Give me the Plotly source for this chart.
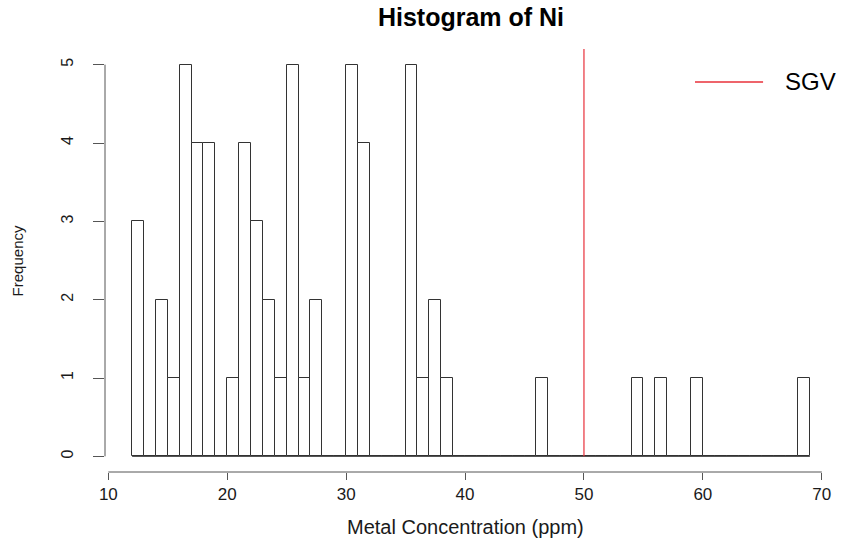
import plotly.graph_objects as go

# Histogram of Ni concentrations: unit-width bins from 12 to 69 ppm
breaks = list(range(12, 70))
counts = [3, 0, 2, 1, 5, 4, 4, 0, 1, 4,
          3, 2, 1, 5, 1, 2, 0, 0, 5, 4,
          0, 0, 0, 5, 1, 2, 1,
          0, 0, 0, 0, 0, 0, 0,
          1,
          0, 0, 0, 0, 0, 0, 0,
          1, 0, 1, 0, 0, 1,
          0, 0, 0, 0, 0, 0, 0, 0,
          1]
sgv = 50
x_ticks = [10, 20, 30, 40, 50, 60, 70]
y_ticks = [0, 1, 2, 3, 4, 5]

centers = [(a + b) / 2 for a, b in zip(breaks[:-1], breaks[1:])]
widths = [b - a for a, b in zip(breaks[:-1], breaks[1:])]

INK = "#333333"
TXT = "#1a1a1a"
FONT = "Liberation Sans, Arial, sans-serif"

x_lo = breaks[0] - 0.04 * (breaks[-1] - breaks[0])
x_hi = breaks[-1] + 0.04 * (breaks[-1] - breaks[0])
y_top = max(counts) * 1.04
y_lo = -0.04 * max(counts)

fig = go.Figure()

# baseline where empty bins collapse to zero height
fig.add_trace(go.Scatter(
    x=[breaks[0], breaks[-1]], y=[0, 0], mode="lines",
    line=dict(color=INK, width=1), hoverinfo="skip", showlegend=False))

fig.add_trace(go.Bar(
    x=centers, y=counts, width=widths,
    marker=dict(color="white", line=dict(color=INK, width=1)),
    showlegend=False))

# guideline value
fig.add_trace(go.Scatter(
    x=[sgv, sgv], y=[0, y_top], mode="lines",
    line=dict(color="#e8303a", width=1.2), hoverinfo="skip", showlegend=False))

shapes = [
    # R-style detached axis lines spanning only the tick range
    dict(type="line", xref="x", yref="paper", x0=x_ticks[0], x1=x_ticks[-1],
         y0=0, y1=0, line=dict(color="#555555", width=1)),
    dict(type="line", xref="paper", yref="y", x0=0, x1=0,
         y0=y_ticks[0], y1=y_ticks[-1], line=dict(color="#555555", width=1)),
    # legend key
    dict(type="line", xref="paper", yref="paper", x0=0.806, x1=0.899,
         y0=0.922, y1=0.922, line=dict(color="#e8303a", width=1.5)),
]

annotations = [
    dict(text="SGV", xref="paper", yref="paper", x=0.926, y=0.922,
         xanchor="left", yanchor="middle", showarrow=False,
         font=dict(family=FONT, size=24, color="#000000")),
    dict(text="Metal Concentration (ppm)", xref="paper", yref="paper",
         x=0.493, y=-0.13, xanchor="center", yanchor="middle", showarrow=False,
         font=dict(family=FONT, size=20, color=TXT)),
    dict(text="Frequency", xref="paper", yref="paper",
         x=-0.119, y=0.5, xanchor="center", yanchor="middle", showarrow=False,
         textangle=-90, font=dict(family=FONT, size=15, color=TXT)),
]

fig.update_layout(
    width=843, height=546,
    margin=dict(l=105, r=6, t=49, b=74),
    paper_bgcolor="white", plot_bgcolor="white",
    bargap=0,
    title=dict(text="<b>Histogram of Ni</b>", x=0.5, xref="paper",
               y=1 - 17 / 546, yref="container", xanchor="center", yanchor="middle",
               font=dict(family=FONT, size=25, color="#000000")),
    xaxis=dict(range=[x_lo, x_hi], tickvals=x_ticks, ticks="outside", ticklen=7,
               tickcolor="#555555", showline=False, showgrid=False, zeroline=False,
               tickfont=dict(family=FONT, size=17, color=TXT)),
    yaxis=dict(range=[y_lo, y_top], tickvals=y_ticks, ticks="outside", ticklen=11,
               tickcolor="#555555", showline=False, showgrid=False, zeroline=False,
               tickangle=-90, ticklabelstandoff=14,
               tickfont=dict(family=FONT, size=16, color=TXT)),
    shapes=shapes,
    annotations=annotations,
)

fig.write_html("out.html")
